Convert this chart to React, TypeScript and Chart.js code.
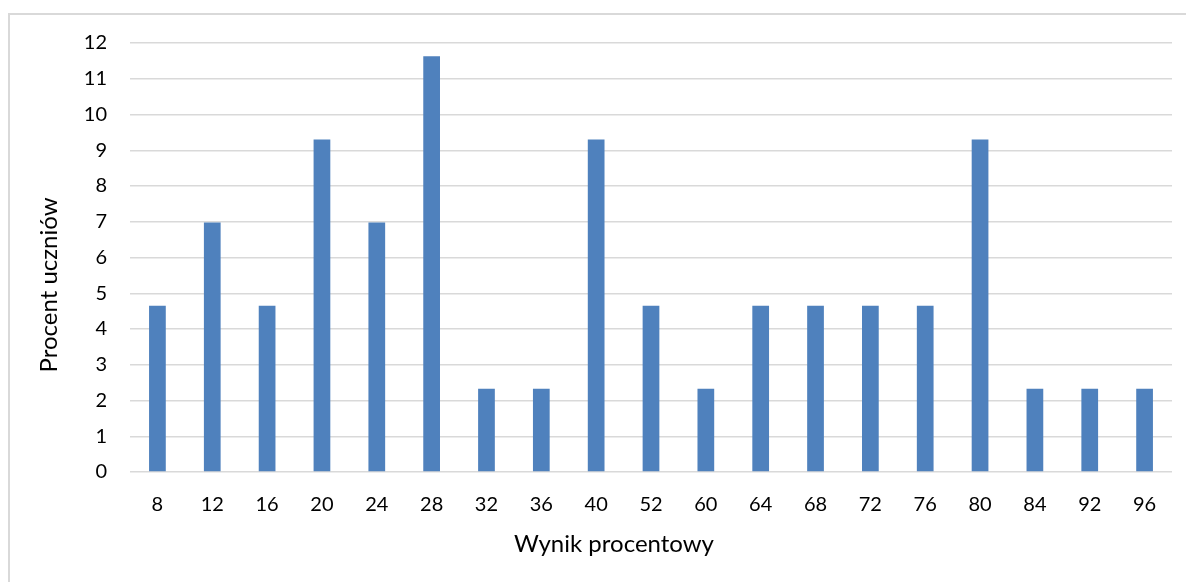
import React, { useEffect, useRef } from "react";
import { Chart, registerables } from "chart.js";

Chart.register(...registerables);

const categories = ["8", "12", "16", "20", "24", "28", "32", "36", "40", "52", "60", "64", "68", "72", "76", "80", "84", "92", "96"];
const percentValues = [4.65, 6.98, 4.65, 9.3, 6.98, 11.63, 2.33, 2.33, 9.3, 4.65, 2.33, 4.65, 4.65, 4.65, 4.65, 9.3, 2.33, 2.33, 2.33];
const yTicksMax = 12;
const xTitle = "Wynik procentowy";
const yTitle = "Procent uczniów";

const FONT = "Lato, 'Noto Sans', sans-serif";

// Axis titles drawn as in the original (offset from plot centre, like the source spreadsheet chart)
const axisTitlesPlugin = {
  id: "axisTitles",
  afterDraw(chart: any) {
    const ctx = chart.ctx;
    ctx.save();
    ctx.fillStyle = "#000";
    ctx.font = `24px ${FONT}`;
    ctx.textAlign = "center";
    ctx.textBaseline = "alphabetic";
    ctx.fillText(xTitle, 614, 552);
    ctx.translate(57, 285);
    ctx.rotate(-Math.PI / 2);
    ctx.fillText(yTitle, 0, 0);
    ctx.restore();
  },
};

export default function App() {
  const ref = useRef<HTMLCanvasElement | null>(null);

  useEffect(() => {
    document.body.style.overflow = "hidden";
    const ctx = ref.current;
    if (!ctx) return;
    const chart = new Chart(ctx, {
      type: "bar",
      data: {
        labels: categories,
        datasets: [
          {
            data: percentValues,
            backgroundColor: "#4f81bd",
            borderWidth: 0,
            barPercentage: 0.305,
            categoryPercentage: 1,
          },
        ],
      },
      options: {
        animation: false,
        responsive: false,
        maintainAspectRatio: false,
        plugins: { legend: { display: false }, tooltip: { enabled: false } },
        layout: { padding: { left: 0, right: 14, top: 43, bottom: 0 } },
        scales: {
          x: {
            grid: { display: false, drawTicks: false },
            border: { display: false },
            ticks: { color: "#000", font: { family: FONT, size: 20 }, padding: 21, maxRotation: 0 },
            afterFit: (s: any) => { s.height = 110; },
          },
          y: {
            min: 0,
            max: yTicksMax,
            ticks: { stepSize: 1, color: "#000", font: { family: FONT, size: 20 }, padding: 23 },
            grid: { color: "#d9d9d9", lineWidth: 1.5, drawTicks: false },
            border: { display: false },
            afterFit: (s: any) => { s.width = 130; },
          },
        },
      },
      plugins: [axisTitlesPlugin],
    });
    return () => chart.destroy();
  }, []);

  return (
    <div>
      <div
        style={{
          position: "fixed",
          left: 8,
          top: 13,
          width: 1200,
          height: 600,
          border: "2px solid #d9d9d9",
          boxSizing: "border-box",
        }}
      />
      <canvas
        ref={ref}
        width={1186}
        height={582}
        style={{ position: "fixed", left: 0, top: 0, width: 1186, height: 582 }}
      />
    </div>
  );
}
